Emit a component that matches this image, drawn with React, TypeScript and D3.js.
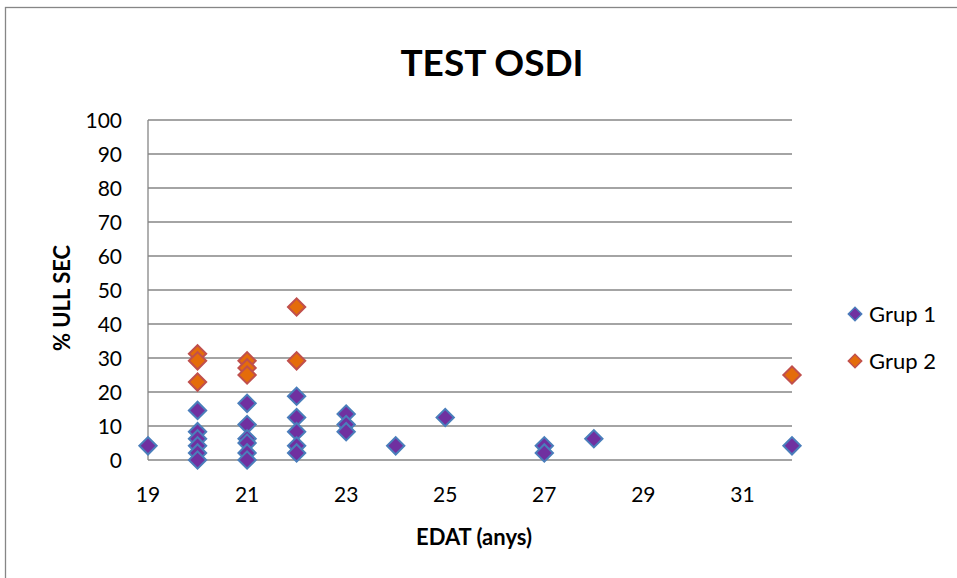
import * as d3 from 'd3';

// Grup 1 (age, % ull sec)
const g1Age = [19, 20, 20, 20, 20, 20, 20, 21, 21, 21, 21, 21, 21, 22, 22, 22, 22, 22, 23, 23, 23, 24, 25, 27, 27, 28, 32];
const g1Val = [4.17, 14.58, 8.33, 6.25, 4.17, 2.08, 0, 16.67, 10.42, 6.25, 5.0, 2.08, 0, 18.75, 12.5, 8.33, 4.17, 2.08, 13.54, 10.42, 8.33, 4.17, 12.5, 4.17, 2.08, 6.25, 4.17];
// Grup 2
const g2Age = [20, 20, 20, 21, 21, 21, 22, 22, 32];
const g2Val = [31.25, 29.17, 22.92, 29.17, 27.08, 25, 45, 29.17, 25];

const xTicks = [19, 21, 23, 25, 27, 29, 31];
const yTicks = [0, 10, 20, 30, 40, 50, 60, 70, 80, 90, 100];
const seriesNames = ['Grup 1', 'Grup 2'];

const COLORS = {
    grid: '#868686',
    text: '#000',
    g1Fill: '#7030A0',
    g1Stroke: '#4A7EBB',
    g2Fill: '#E46C0A',
    g2Stroke: '#C0504D',
};

const FONT = 'Lato, "Noto Sans", sans-serif';

export default function App() {
    const width = 957;
    const height = 578;
    const plot = { left: 148, right: 792, top: 120, bottom: 460 };

    const x = d3.scaleLinear().domain([19, 32]).range([plot.left, plot.right]);
    const y = d3.scaleLinear().domain([0, 100]).range([plot.bottom, plot.top]);

    // Excel-style diamond: square rotated 45deg
    const diamond = d3.symbol().type(d3.symbolSquare).size(150)();

    const g1 = g1Age.map((a, i) => ({ a, v: g1Val[i] }));
    const g2 = g2Age.map((a, i) => ({ a, v: g2Val[i] }));

    const styles = [
        { fill: COLORS.g1Fill, stroke: COLORS.g1Stroke },
        { fill: COLORS.g2Fill, stroke: COLORS.g2Stroke },
    ];

    return (
        <svg width={width} height={height}
            style={{ position: 'absolute', left: 0, top: 0, background: '#fff', fontFamily: FONT }}>
            {/* chart border */}
            <rect x={5.5} y={7.5} width={1000} height={700} fill="none" stroke={COLORS.grid} strokeWidth={1.3} />

            <text x={492} y={76} textAnchor="middle" fontSize={37} fontWeight="bold" fill={COLORS.text}>
                TEST OSDI
            </text>

            {/* gridlines */}
            {yTicks.map(t => (
                <line key={t} x1={plot.left} x2={plot.right} y1={y(t)} y2={y(t)}
                    stroke={COLORS.grid} strokeWidth={1.3} />
            ))}
            <line x1={plot.left} x2={plot.left} y1={plot.top} y2={plot.bottom} stroke={COLORS.grid} strokeWidth={1.3} />

            {/* y tick labels */}
            {yTicks.map(t => (
                <text key={t} x={plot.left - 26} y={y(t) + 8} textAnchor="end" fontSize={21} fill={COLORS.text}>{t}</text>
            ))}
            {/* x tick labels */}
            {xTicks.map(t => (
                <text key={t} x={x(t)} y={plot.bottom + 42} textAnchor="middle" fontSize={21} fill={COLORS.text}>{t}</text>
            ))}

            <text x={0} y={0} transform={`translate(${70},${298}) rotate(-90)`} textAnchor="middle"
                fontSize={22} fontWeight="bold" fill={COLORS.text}>% ULL SEC</text>
            <text x={474} y={545} textAnchor="middle"
                fontSize={22} fontWeight="bold" fill={COLORS.text}>EDAT (anys)</text>

            {/* points */}
            {[g1, g2].map((pts, si) => (
                <g key={si}>
                    {pts.map((d, i) => (
                        <path key={i} d={diamond}
                            transform={`translate(${x(d.a)},${y(d.v)}) rotate(45)`}
                            fill={styles[si].fill} stroke={styles[si].stroke} strokeWidth={2} />
                    ))}
                </g>
            ))}

            {/* legend */}
            {seriesNames.map((name, i) => (
                <g key={name} transform={`translate(855,${314 + i * 47})`}>
                    <path d={d3.symbol().type(d3.symbolSquare).size(90)()} transform="rotate(45)"
                        fill={styles[i].fill} stroke={styles[i].stroke} strokeWidth={1.5} />
                    <text x={14} y={8} fontSize={22} fill={COLORS.text}>{name}</text>
                </g>
            ))}
        </svg>
    );
}
